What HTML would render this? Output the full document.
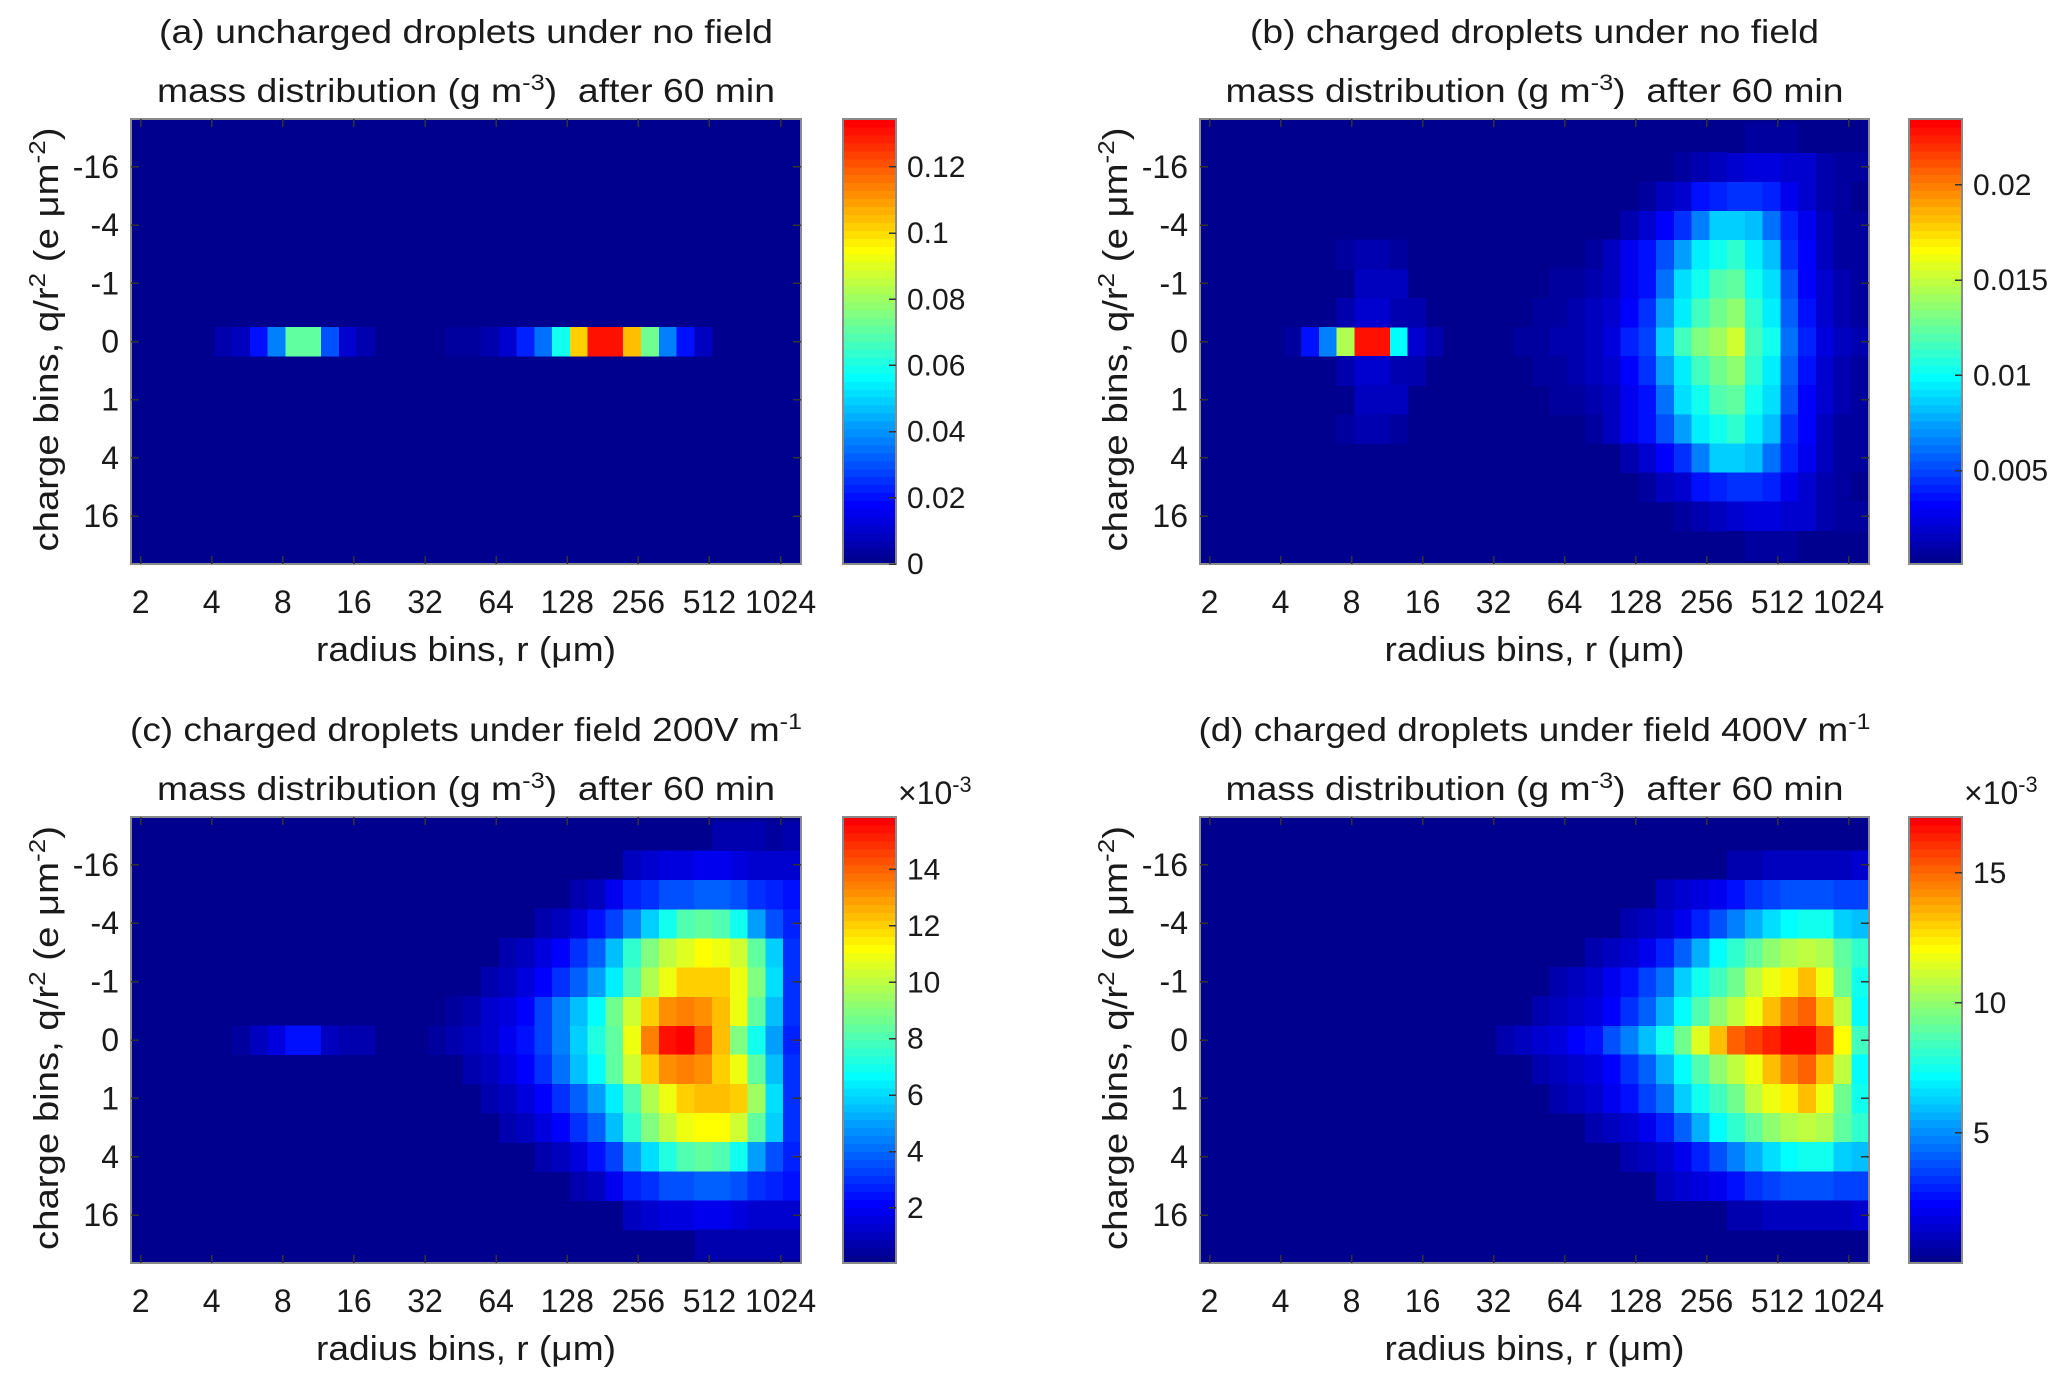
<!DOCTYPE html>
<html><head><meta charset="utf-8"><style>
html,body{margin:0;padding:0;background:#fff;}
svg{display:block;}
text{font-family:"Liberation Sans",Arial,sans-serif;fill:#1a1a1a;}
</style></head>
<body>
<svg id="fig" width="2067" height="1386" viewBox="0 0 2067 1386" xmlns="http://www.w3.org/2000/svg" shape-rendering="crispEdges"></svg>
<script>
// ---------- shared axis data ----------
const xTickLabels = ['2','4','8','16','32','64','128','256','512','1024'];
const xTickBins = [0,4,8,12,16,20,24,28,32,36];
const yTickLabels = ['-16','-4','-1','0','1','4','16'];
const yTickBins = [-6,-4,-2,0,2,4,6];

// ---------- panel (a) data : g m^-3 ----------
const segRowsA = [0, 0];
const segStartA = [4, 17];
const segValsA = [
 [0.004,0.008,0.019,0.036,0.071,0.071,0.03,0.01,0.005],
 [0.003,0.003,0.006,0.011,0.022,0.035,0.059,0.103,0.133,0.132,0.105,0.073,0.036,0.02,0.007]
];
const cbTicksA = [0,0.02,0.04,0.06,0.08,0.1,0.12];
const cbLabelsA = ['0','0.02','0.04','0.06','0.08','0.1','0.12'];
const cRangeA = [0, 0.1345];

// ---------- panel (b) data : 1e-3 g m^-3 ----------
const segRowsB = [0,-1,1,-2,2,-3,3, 0,-1,1,-2,2,-3,3,-4,4,-5,5,-6,6,-7,7];
const segStartB = [4,7,7,8,8,7,7, 17,18,18,19,19,21,21,23,23,24,24,26,26,29,29];
const segValsB = [
 [0.5,3.5,6.5,14.5,23,23,10,2,0.8],
 [1,1.8,1.8,1.0,0.8],[1,1.8,1.8,1.0,0.8],
 [1.2,1.2,1.2],[1.2,1.2,1.2],
 [0.6,0.8,0.8,0.6],[0.6,0.8,0.8,0.6],
 [0.5,0.6,0.8,1.1,1.5,2.2,3.9,4.9,8.4,11.7,13.3,14,15.4,11.7,10.3,6,4,2.4,1.3,0.8],
 [0.5,0.5,1.0,1.3,2,3,4.5,7.5,9.5,11.5,13,13.5,11,9.5,5.5,3.5,2,1,0.6],
 [0.5,0.5,1.0,1.3,2,3,4.5,7.5,9.5,11.5,13,13.5,11,9.5,5.5,3.5,2,1,0.6],
 [0.5,0.7,1.0,1.5,2.5,3.5,6,9,10.5,12,12.5,10.5,9,5,3,1.8,1,0.5],
 [0.5,0.7,1.0,1.5,2.5,3.5,6,9,10.5,12,12.5,10.5,9,5,3,1.8,1,0.5],
 [0.6,1.2,2.5,3.5,5,7.5,9.5,10.5,11,9.5,8,4.5,3,1.5,0.7,0.4],
 [0.6,1.2,2.5,3.5,5,7.5,9.5,10.5,11,9.5,8,4.5,3,1.5,0.7,0.4],
 [1.0,1.8,3,4.5,6.5,8.5,8.5,8,6,3.8,2.5,1.2,0.6,0.4],
 [1.0,1.8,3,4.5,6.5,8.5,8.5,8,6,3.8,2.5,1.2,0.6,0.4],
 [0.7,1.2,2,3.3,4,4.5,4.5,3.8,2.8,1.8,0.9,0.5,0.3],
 [0.7,1.2,2,3.3,4,4.5,4.5,3.8,2.8,1.8,0.9,0.5,0.3],
 [0.5,1,1.5,2,2.3,2.3,2,1.6,1,0.6,0.4],
 [0.5,1,1.5,2,2.3,2.3,2,1.6,1,0.6,0.4],
 [0.3,0.4,0.4,0.4,0.3,0.3],[0.3,0.4,0.4,0.4,0.3,0.3]
];
const cbTicksB = [5,10,15,20];
const cbLabelsB = ['0.005','0.01','0.015','0.02'];
const cRangeB = [0.1, 23.46];

// ---------- panel (c) data : 1e-3 g m^-3 ----------
const segRowsC = [0,0,-1,1,-2,2,-3,3,-4,4,-5,5,-6,6,-7,7];
const segStartC = [5,16,17,18,19,19,20,20,22,22,24,24,27,27,32,31];
const segValsC = [
 [0.4,0.8,1.5,2.4,2.4,0.9,0.6,0.5],
 [0.3,0.5,0.9,1.3,1.8,2.3,3.3,4.5,5.8,7.2,8.5,11,13.5,15.7,15.9,14.5,12.3,9,7,4.8,2.5],
 [0.4,0.7,1.1,1.6,2.2,3.2,4.3,5.5,6.8,8.8,10.5,12.2,13.2,13.5,13.2,12.3,11,8.5,5.5,2.8],
 [0.6,1.0,1.5,2.1,3,4.2,5.5,6.8,8.5,10.5,12,13.3,13.5,13.2,12.2,11,8.5,5.5,2.8],
 [0.5,0.9,1.4,2,2.8,3.8,5,6.5,8.2,9.8,11,12.2,12.2,12,11,9,6,3],
 [0.5,0.9,1.4,2,2.8,3.8,5,6.5,8.2,9.8,11,12.2,12.5,12.5,12,9.5,6,3],
 [0.5,0.9,1.4,2,2.8,3.8,5.5,7.5,9,10,10.8,11.2,11,10.3,8.3,5.8,3],
 [0.5,0.9,1.4,2,2.8,3.8,5.5,7.5,9,10,11,11.3,11.3,10.3,8.3,5.8,3],
 [0.6,1,1.6,2.3,3.2,4.5,5.8,7,8,8.3,8,7,5,3.5,2.5],
 [0.6,1,1.6,2.3,3.2,4.8,6,7.2,8.2,8.5,8.2,7,5,3.5,2.5],
 [0.5,1,1.8,2.5,3,3.4,3.6,3.8,3.8,3.5,2.8,2.5,2.3],
 [0.5,1,1.8,2.5,3,3.4,3.6,3.8,3.8,3.5,2.8,2.5,2.3],
 [0.8,1.2,1.5,1.6,1.7,1.7,1.6,1.3,1.2,1.2],
 [0.8,1.2,1.5,1.6,1.7,1.7,1.6,1.3,1.2,1.2],
 [0.5,0.5,0.5,0.4,0.5],
 [0.5,0.5,0.5,0.5,0.5,0.5]
];
const cbTicksC = [2,4,6,8,10,12,14];
const cbLabelsC = ['2','4','6','8','10','12','14'];
const cRangeC = [0.05, 15.86];

// ---------- panel (d) data : 1e-3 g m^-3 ----------
const segRowsD = [0,-1,1,-2,2,-3,3,-4,4,-5,5,-6,6];
const segStartD = [16,18,18,19,19,21,21,23,23,25,25,29,29];
const segValsD = [
 [0.6,0.9,1.3,1.7,2.2,2.6,3.6,4.6,5.8,7.4,9.5,11.5,13.5,15.3,15.8,16.6,17.1,17.1,15.8,12.2,8.3],
 [0.7,1.0,1.3,1.7,2.3,3.0,4.2,5.6,7.3,8.8,10,11,12,13.3,14.6,15.3,13.5,11,7.3],
 [0.7,1.0,1.3,1.7,2.3,3.0,4.2,5.6,7.3,8.8,10,11,12,13.3,14.6,15.3,13.5,11,7.3],
 [0.6,0.9,1.3,1.8,2.5,3.4,4.5,6.2,7.5,8.5,9.5,11,12,12.5,13.3,12,9.5,7.5],
 [0.6,0.9,1.3,1.8,2.5,3.4,4.5,6.2,7.5,8.5,9.5,11,12,12.5,13.3,12,9.5,7.5],
 [0.6,0.9,1.4,2,2.8,4,5.6,7.2,8.2,9,10,10.5,11,10.5,9,8],
 [0.6,0.9,1.4,2,2.8,4,5.6,7.2,8.2,9,10,10.5,11,10.5,9,8],
 [0.6,1,1.4,2,2.8,3.8,4.8,5.5,6.4,7.2,7.5,7.5,6.3,5.8],
 [0.6,1,1.4,2,2.8,3.8,4.8,5.5,6.4,7.2,7.5,7.5,6.3,5.8],
 [0.8,1.2,1.6,2,2.5,3,3.3,3.6,3.8,3.6,3.3,3.4],
 [0.8,1.2,1.6,2,2.5,3,3.3,3.6,3.8,3.6,3.3,3.4],
 [0.6,0.7,0.8,0.9,0.9,0.9,0.8,1.2],
 [0.6,0.7,0.8,0.9,0.9,0.9,0.8,1.2]
];
const cbTicksD = [5,10,15];
const cbLabelsD = ['5','10','15'];
const cRangeD = [0, 17.15];

// ---------- rendering ----------
const NS = 'http://www.w3.org/2000/svg';
const svg = document.getElementById('fig');
const U0 = -0.54, U1 = 37.15, R0 = -7.64, R1 = 7.64;

function jet(t){
  t = Math.max(0, Math.min(1, t));
  const s = Math.round(t*55);
  let r=0,g=0,b=0;
  if (s < 7) b = 0.5625 + s*0.0625; else if (s <= 23) b = 1; else if (s <= 39) b = 1-(s-23)/16; else b = 0;
  if (s < 7) g = 0; else if (s <= 23) g = (s-7)/16; else if (s <= 39) g = 1; else g = 1-(s-39)/16;
  if (s <= 23) r = 0; else if (s <= 39) r = (s-23)/16; else r = 1;
  return 'rgb('+Math.round(r*255)+','+Math.round(g*255)+','+Math.round(b*255)+')';
}

function mk(tag, attrs, parent){
  const e = document.createElementNS(NS, tag);
  for (const k in attrs) e.setAttribute(k, attrs[k]);
  (parent||svg).appendChild(e);
  return e;
}

function addText(x, y, str, size, anchor, len){
  const t = mk('text', {x:x, y:y, 'font-size':size, 'text-anchor':anchor||'middle'});
  t.textContent = str;
  if (len) { t.setAttribute('textLength', len); t.setAttribute('lengthAdjust', 'spacingAndGlyphs'); }
  return t;
}

function richText(x, y, parts, size, len, anchor){
  const t = mk('text', {x:x, y:y, 'font-size':size, 'text-anchor':anchor||'middle'});
  parts.forEach(p => {
    const s = document.createElementNS(NS, 'tspan');
    s.textContent = p[0];
    if (p[1]) { s.setAttribute('baseline-shift', 'super'); s.setAttribute('font-size', size*0.68); }
    t.appendChild(s);
  });
  if (len) { t.setAttribute('textLength', len); t.setAttribute('lengthAdjust', 'spacingAndGlyphs'); }
  return t;
}

function drawPanel(p){
  const L=p.L, T=p.T, W=p.R-p.L, H=p.B-p.T;
  const xOf = u => L + (u-U0)/(U1-U0)*W;
  const yOf = r => T + (r-R0)/(R1-R0)*H;
  const g = mk('g', {});
  
  
  const bg = mk('rect', {x:L, y:T, width:W, height:H, fill:jet(0)}, g);
  
  
  for (let i=0;i<p.rows.length;i++){
    const r = p.rows[i];
    const y0 = Math.max(yOf(r-0.5), T), y1 = Math.min(yOf(r+0.5), p.B);
    p.vals[i].forEach((v, k) => {
      const j = p.start[i] + k;
      const x0 = Math.max(xOf(j+0.15), L), x1 = Math.min(xOf(j+1.15), p.R);
      const t = (v - p.range[0])/(p.range[1]-p.range[0]);
      const c = mk('rect', {x:x0.toFixed(2), y:y0.toFixed(2), width:(x1-x0+0.6).toFixed(2), height:(y1-y0+0.6).toFixed(2), fill:jet(t)}, g);
      
      
    });
  }
  const fr = mk('rect', {x:L, y:T, width:W, height:H, fill:'none', stroke:'#8a8a8a', 'stroke-width':2});
  
  
  xTickBins.forEach((u, i) => {
    const x = xOf(u);
    mk('line', {x1:x, y1:p.B, x2:x, y2:p.B-8, stroke:'#333', 'stroke-width':1.5});
    mk('line', {x1:x, y1:T, x2:x, y2:T+8, stroke:'#333', 'stroke-width':1.5});
    const lbl = addText(x, p.B+49, xTickLabels[i], 32, 'middle');
    
    
  });
  yTickBins.forEach((r, i) => {
    const y = yOf(r);
    mk('line', {x1:L, y1:y, x2:L+8, y2:y, stroke:'#333', 'stroke-width':1.5});
    mk('line', {x1:p.R, y1:y, x2:p.R-8, y2:y, stroke:'#333', 'stroke-width':1.5});
    const lbl = addText(L-12, y+11, yTickLabels[i], 32, 'end');
    
    
  });
  const cx = (L+p.R)/2;
  const xl = addText(cx, p.B+97, 'radius bins, r (\u03bcm)', 34, 'middle', 300);
  
  
  const cy = (T+p.B)/2 - 2;
  const ylx = L - 85;
  const yl = richText(ylx, cy+12, [['charge bins, q/r',0],['2',1],[' (e \u03bcm',0],['-2',1],[')',0]], 34, 424);
  yl.setAttribute('transform', 'rotate(-90 '+ylx+' '+cy+')');
  
  
  const t1 = richText(cx, p.T-76, p.title, 33, p.titleLen);
  
  
  const t2 = richText(cx, p.T-17, [['mass distribution (g m',0],['-3',1],[')\u00a0 after 60 min',0]], 33, 618);
  
  
  const cb = mk('g', {});
  
  
  const CH = p.B - p.T, N = 56;
  for (let i=0;i<N;i++){
    const y = p.B - (i+1)*CH/N;
    mk('rect', {x:p.cbL, y:y.toFixed(2), width:p.cbR-p.cbL, height:(CH/N+0.6).toFixed(2), fill:jet(i/(N-1))}, cb);
  }
  mk('rect', {x:p.cbL, y:T, width:p.cbR-p.cbL, height:CH, fill:'none', stroke:'#8a8a8a', 'stroke-width':2}, cb);
  const cOf = v => p.B - (v-p.range[0])/(p.range[1]-p.range[0])*CH;
  p.cbTicks.forEach((v, i) => {
    const y = cOf(v);
    mk('line', {x1:p.cbR, y1:y, x2:p.cbR-7, y2:y, stroke:'#333', 'stroke-width':1.5}, cb);
    const lbl = addText(p.cbR+11, y+10, p.cbLabels[i], 30, 'start');
    
    
  });
  if (p.exp) {
    const ex = richText(p.cbL+55, T-13, [['\u00d710',0],['-3',1]], 32, null, 'start');
    
    
  }
}

drawPanel({name:'panel-a', L:131, R:801, T:119, B:564, cbL:843, cbR:896,
  rows:segRowsA, start:segStartA, vals:segValsA, range:cRangeA, cbTicks:cbTicksA, cbLabels:cbLabelsA,
  title:[['(a) uncharged droplets under no field',0]], titleLen:614, exp:false});
drawPanel({name:'panel-b', L:1200, R:1869, T:119, B:564, cbL:1909, cbR:1962,
  rows:segRowsB, start:segStartB, vals:segValsB, range:cRangeB, cbTicks:cbTicksB, cbLabels:cbLabelsB,
  title:[['(b) charged droplets under no field',0]], titleLen:569, exp:false});
drawPanel({name:'panel-c', L:131, R:801, T:817, B:1263, cbL:843, cbR:896,
  rows:segRowsC, start:segStartC, vals:segValsC, range:cRangeC, cbTicks:cbTicksC, cbLabels:cbLabelsC,
  title:[['(c) charged droplets under field 200V m',0],['-1',1]], titleLen:672, exp:true});
drawPanel({name:'panel-d', L:1200, R:1869, T:817, B:1263, cbL:1909, cbR:1962,
  rows:segRowsD, start:segStartD, vals:segValsD, range:cRangeD, cbTicks:cbTicksD, cbLabels:cbLabelsD,
  title:[['(d) charged droplets under field 400V m',0],['-1',1]], titleLen:672, exp:true});
</script>
</body></html>
